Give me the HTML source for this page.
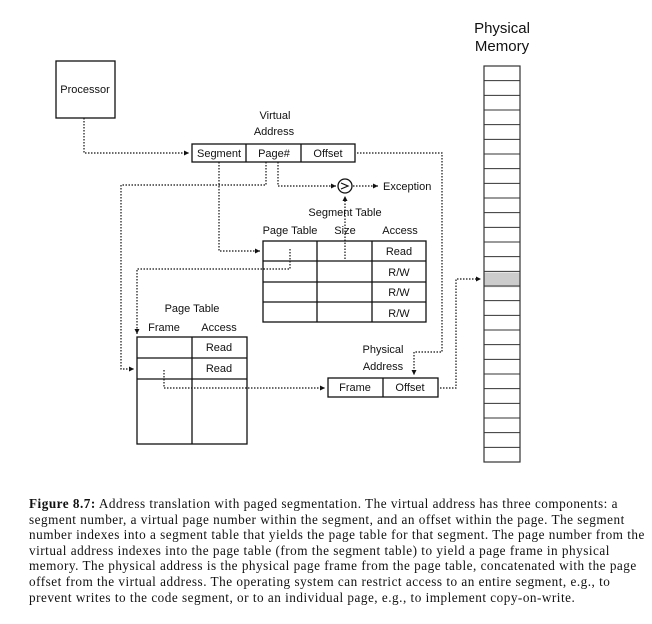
<!DOCTYPE html>
<html><head><meta charset="utf-8"><style>
body{margin:0;background:#fff;width:652px;height:624px;overflow:hidden;position:relative}
svg{position:absolute;left:0;top:0}
svg text{font-family:"Liberation Sans Narrow","Liberation Sans",sans-serif;font-size:11px;fill:#111}
.cap{position:absolute;left:29px;top:496px;width:620px;font-family:"Liberation Serif",serif;font-size:13.2px;letter-spacing:0.5px;line-height:15.6px;color:#111;white-space:nowrap}
</style></head><body>
<svg width="652" height="624" viewBox="0 0 652 624">
<defs><marker id="a" markerWidth="6" markerHeight="6" refX="5" refY="3" orient="auto" markerUnits="userSpaceOnUse"><path d="M0,0.5 L5,3 L0,5.5 z" fill="#111"/></marker></defs>
<g fill="none" stroke="#111" stroke-width="1.3">
<rect x="56" y="61" width="59" height="57"/>
<rect x="192" y="144" width="163" height="18"/>
<line x1="246" y1="144" x2="246" y2="162"/><line x1="301" y1="144" x2="301" y2="162"/>
<circle cx="345" cy="186" r="7"/>
<rect x="263" y="241" width="163" height="81"/>
<line x1="317" y1="241" x2="317" y2="322"/><line x1="372" y1="241" x2="372" y2="322"/>
<line x1="263" y1="261" x2="426" y2="261"/><line x1="263" y1="282" x2="426" y2="282"/><line x1="263" y1="302" x2="426" y2="302"/>
<rect x="137" y="337" width="110" height="107"/>
<line x1="192" y1="337" x2="192" y2="444"/>
<line x1="137" y1="358" x2="247" y2="358"/><line x1="137" y1="379" x2="247" y2="379"/>
<rect x="328" y="378" width="110" height="19"/>
<line x1="383" y1="378" x2="383" y2="397"/>
</g>
<rect x="484" y="272.5" width="36" height="14.7" fill="#ccc"/>
<g stroke="#333" stroke-width="1" fill="none" id="mem"></g>
<rect x="484" y="66" width="36" height="396" fill="none" stroke="#333" stroke-width="1.2"/>
<path d="M341,183 L348,186 L341,189" fill="none" stroke="#111" stroke-width="1.2"/>
<g fill="none" stroke="#111" stroke-width="1.2" stroke-dasharray="1.5,1.5">
<path d="M84,118 V153 H189" marker-end="url(#a)"/>
<path d="M219,162 V251 H260" marker-end="url(#a)"/>
<path d="M266,162 V185 H121 V369 H134" marker-end="url(#a)"/>
<path d="M278,162 V186 H336" marker-end="url(#a)"/>
<path d="M353,186 H378" marker-end="url(#a)"/>
<path d="M345,259 V196" marker-end="url(#a)"/>
<path d="M290,249 V269 H137 V334" marker-end="url(#a)"/>
<path d="M164,370 V388 H325" marker-end="url(#a)"/>
<path d="M357,153 H442 V352 H414 V375" marker-end="url(#a)"/>
<path d="M440,388 H456 V279 H481" marker-end="url(#a)"/>
</g>
<text x="85" y="93" text-anchor="middle">Processor</text>
<text x="275" y="119" text-anchor="middle">Virtual</text>
<text x="274" y="135" text-anchor="middle">Address</text>
<text x="219" y="157" text-anchor="middle">Segment</text>
<text x="274" y="157" text-anchor="middle">Page#</text>
<text x="328" y="157" text-anchor="middle">Offset</text>
<text x="383" y="190">Exception</text>
<text x="345" y="216" text-anchor="middle">Segment Table</text>
<text x="290" y="234" text-anchor="middle">Page Table</text>
<text x="345" y="234" text-anchor="middle">Size</text>
<text x="400" y="234" text-anchor="middle">Access</text>
<text x="399" y="255" text-anchor="middle">Read</text>
<text x="399" y="276" text-anchor="middle">R/W</text>
<text x="399" y="296" text-anchor="middle">R/W</text>
<text x="399" y="317" text-anchor="middle">R/W</text>
<text x="192" y="312" text-anchor="middle">Page Table</text>
<text x="164" y="331" text-anchor="middle">Frame</text>
<text x="219" y="331" text-anchor="middle">Access</text>
<text x="219" y="351" text-anchor="middle">Read</text>
<text x="219" y="372" text-anchor="middle">Read</text>
<text x="383" y="353" text-anchor="middle">Physical</text>
<text x="383" y="370" text-anchor="middle">Address</text>
<text x="355" y="391" text-anchor="middle">Frame</text>
<text x="410" y="391" text-anchor="middle">Offset</text>
<text x="502" y="33" text-anchor="middle" style="font-family:'Liberation Sans',sans-serif;font-size:15px">Physical</text>
<text x="502" y="51" text-anchor="middle" style="font-family:'Liberation Sans',sans-serif;font-size:15px">Memory</text>
</svg>
<script>
(function(){var g=document.getElementById('mem'),s='';for(var i=1;i<27;i++){var y=66+i*396/27;s+='<line x1="484" y1="'+y+'" x2="520" y2="'+y+'"/>';}g.innerHTML=s;})();
</script>
<div class="cap"><b>Figure 8.7:</b> Address translation with paged segmentation. The virtual address has three components: a<br>segment number, a virtual page number within the segment, and an offset within the page. The segment<br>number indexes into a segment table that yields the page table for that segment. The page number from the<br>virtual address indexes into the page table (from the segment table) to yield a page frame in physical<br>memory. The physical address is the physical page frame from the page table, concatenated with the page<br>offset from the virtual address. The operating system can restrict access to an entire segment, e.g., to<br>prevent writes to the code segment, or to an individual page, e.g., to implement copy-on-write.</div>
</body></html>
